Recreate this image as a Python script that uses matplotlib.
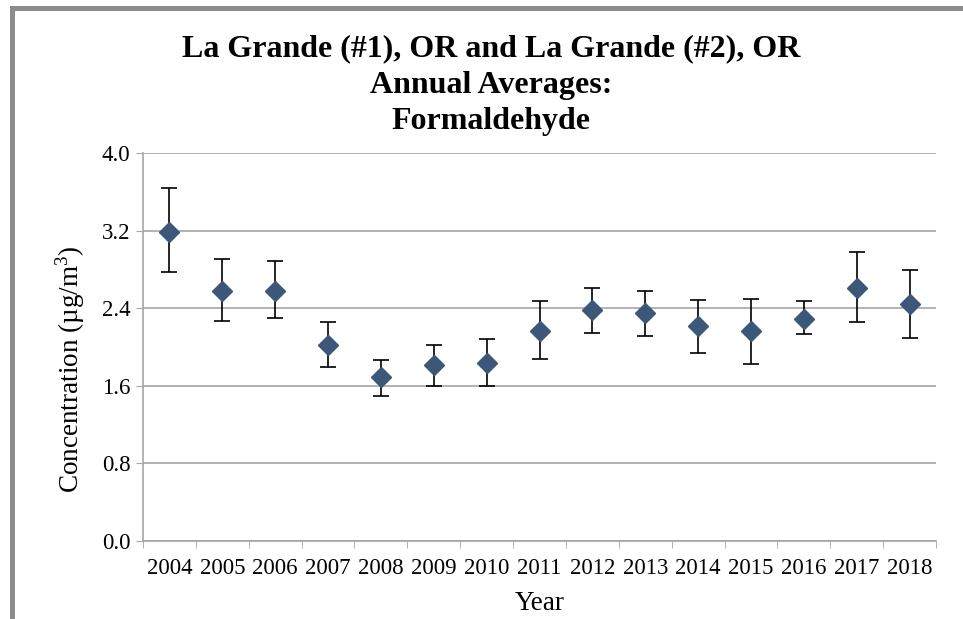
import matplotlib
matplotlib.use("Agg")
import matplotlib.pyplot as plt
from matplotlib.patches import Rectangle
import numpy as np

plt.rcParams.update({"font.family": ["Liberation Serif", "DejaVu Serif"],
                     "mathtext.fontset": "custom", "mathtext.rm": "Liberation Serif"})

years = ["2004", "2005", "2006", "2007", "2008", "2009", "2010", "2011",
         "2012", "2013", "2014", "2015", "2016", "2017", "2018"]
means = [3.19, 2.58, 2.58, 2.02, 1.69, 1.81, 1.84, 2.17, 2.38, 2.35, 2.22, 2.16, 2.29, 2.61, 2.44]
upper = [3.64, 2.91, 2.89, 2.26, 1.87, 2.02, 2.08, 2.47, 2.61, 2.58, 2.48, 2.50, 2.47, 2.98, 2.79]
lower = [2.77, 2.27, 2.30, 1.79, 1.49, 1.60, 1.60, 1.88, 2.14, 2.11, 1.94, 1.82, 2.13, 2.26, 2.09]

GRID = "#A6A6A6"
MARK = "#3D5779"

fig = plt.figure(figsize=(9.63, 6.19), dpi=100)
# grey frame along top and left edge
fig.patches.append(Rectangle((10 / 963, 1 - 11 / 619), 1, 5 / 619, transform=fig.transFigure,
                             facecolor="#8C8C8C", edgecolor="none"))
fig.patches.append(Rectangle((10 / 963, 0), 5 / 963, 1 - 6 / 619, transform=fig.transFigure,
                             facecolor="#8C8C8C", edgecolor="none"))

ax = fig.add_axes([0.1485, 0.126, 0.8235, 0.6268])
x = np.arange(len(years))
m = np.array(means)
yerr = [m - np.array(lower), np.array(upper) - m]
ax.errorbar(x, m, yerr=yerr, fmt="D", color=MARK, ms=10, mec=MARK,
            ecolor="black", elinewidth=1.2, capsize=6, capthick=1.2, zorder=3)

ax.set_xlim(-0.5, len(years) - 0.5)
ax.set_ylim(0, 4.0)
ax.set_yticks(np.arange(0, 4.01, 0.8))
ax.set_yticklabels([f"{v:.1f}" for v in np.arange(0, 4.01, 0.8)])
ax.yaxis.grid(True, color=GRID, lw=1.2)
ax.set_axisbelow(True)
ax.set_xticks(x)
ax.set_xticklabels(years)
ax.set_xticks(np.arange(-0.5, len(years)), minor=True)
ax.tick_params(axis="x", which="major", length=0, labelsize=16.5, pad=12)
ax.tick_params(axis="x", which="minor", length=5, color=GRID)
ax.tick_params(axis="y", length=5, color=GRID, labelsize=16.5, pad=4)
for s in ("top", "right"):
    ax.spines[s].set_visible(False)
for s in ("left", "bottom"):
    ax.spines[s].set_color(GRID)
    ax.spines[s].set_linewidth(1.2)

ax.set_xlabel("Year", fontsize=19.5, labelpad=9)
fig.text(70 / 963, 1 - 369 / 619, "Concentration (µg/m$^{\\mathregular{3}}$)", rotation=90,
         ha="center", va="center", fontsize=19.5)
fig.text(0.51, 0.862, "La Grande (#1), OR and La Grande (#2), OR\nAnnual Averages:\nFormaldehyde",
         ha="center", va="center", fontsize=23, fontweight="bold", linespacing=1.33)

fig.savefig("out.png", dpi=100)
